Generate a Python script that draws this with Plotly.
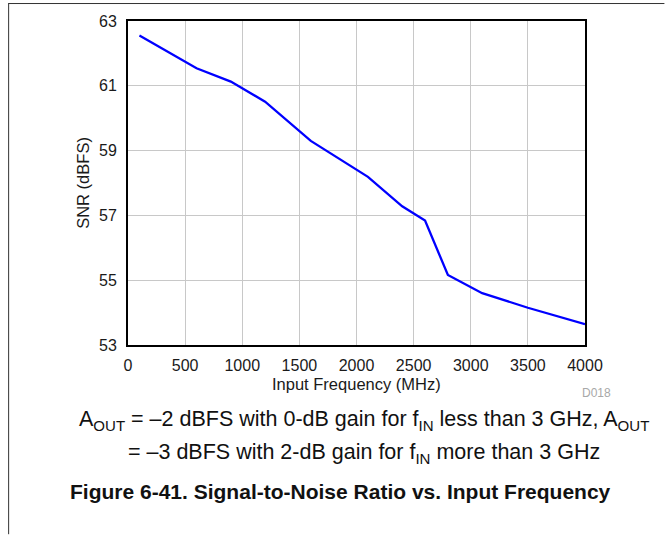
import plotly.graph_objects as go

# SNR vs input frequency
freq_mhz = [100, 600, 900, 1200, 1600, 2100, 2400, 2600, 2800, 3100, 3500, 4000]
snr_dbfs = [62.55, 61.54, 61.13, 60.51, 59.3, 58.19, 57.28, 56.84, 55.16, 54.6, 54.15, 53.64]

x_ticks = [0, 500, 1000, 1500, 2000, 2500, 3000, 3500, 4000]
y_ticks = [53, 55, 57, 59, 61, 63]

W, H = 665, 535
L, R, T, B = 128, 585.5, 21, 345.5
font = "Liberation Sans, Arial, sans-serif"


def px(x):
    return (x - L) / (R - L)


def py(y):
    return (B - y) / (B - T)


fig = go.Figure()
fig.add_trace(go.Scatter(x=freq_mhz, y=snr_dbfs, mode="lines",
                         line=dict(color="#0000ff", width=2.3), showlegend=False))

axis_common = dict(showline=True, linecolor="black", linewidth=2, mirror=True,
                   showgrid=True, gridcolor="#c8c8c8", gridwidth=1,
                   zeroline=False, ticks="", tickfont=dict(size=16, color="#1a1a1a"))

fig.update_xaxes(range=[0, 4000], tickvals=x_ticks, ticktext=[str(v) for v in x_ticks],
                 ticklabelstandoff=5, **axis_common)
fig.update_yaxes(range=[53, 63], tickvals=y_ticks, ticktext=[str(v) for v in y_ticks],
                 ticklabelstandoff=6, **axis_common)

sub = "<sub>%s</sub>"
notes = [
    dict(text="Input Frequency (MHz)", x=px(357), y=py(385), font=dict(size=16.5, color="#1a1a1a")),
    dict(text="SNR (dBFS)", x=px(83), y=py(183), textangle=-90, font=dict(size=16.5, color="#1a1a1a")),
    dict(text="D018", x=px(597.5), y=py(393.5), font=dict(size=12, color="#a8a8a8")),
    dict(text="A" + sub % "OUT" + " = \u20132 dBFS with 0-dB gain for f" + sub % "IN"
         + " less than 3 GHz, A" + sub % "OUT",
         x=px(364.5), y=py(421), font=dict(size=21.5, color="#111")),
    dict(text="= \u20133 dBFS with 2-dB gain for f" + sub % "IN" + " more than 3 GHz",
         x=px(364.5), y=py(454), font=dict(size=21.5, color="#111")),
    dict(text="<b>Figure 6-41. Signal-to-Noise Ratio vs. Input Frequency</b>",
         x=px(341), y=py(492.5), font=dict(size=21, color="#111")),
]
for n in notes:
    fig.add_annotation(xref="paper", yref="paper", showarrow=False,
                       xanchor="center", yanchor="middle", **n)

# page frame lines (top and left)
fig.add_shape(type="line", xref="paper", yref="paper", x0=px(8), x1=px(665),
              y0=py(3.5), y1=py(3.5), line=dict(color="#333", width=1))
fig.add_shape(type="line", xref="paper", yref="paper", x0=px(8.5), x1=px(8.5),
              y0=py(3.5), y1=py(535), line=dict(color="#333", width=1))

fig.update_layout(width=W, height=H, margin=dict(l=L, r=W - R, t=T, b=H - B),
                  paper_bgcolor="white", plot_bgcolor="white",
                  font=dict(family=font, color="#111"))

# drop the default 8px page margin so the figure sits at the window origin
fig.write_html("out.html", config={"displayModeBar": False},
               post_script="document.body.style.margin='0';")
